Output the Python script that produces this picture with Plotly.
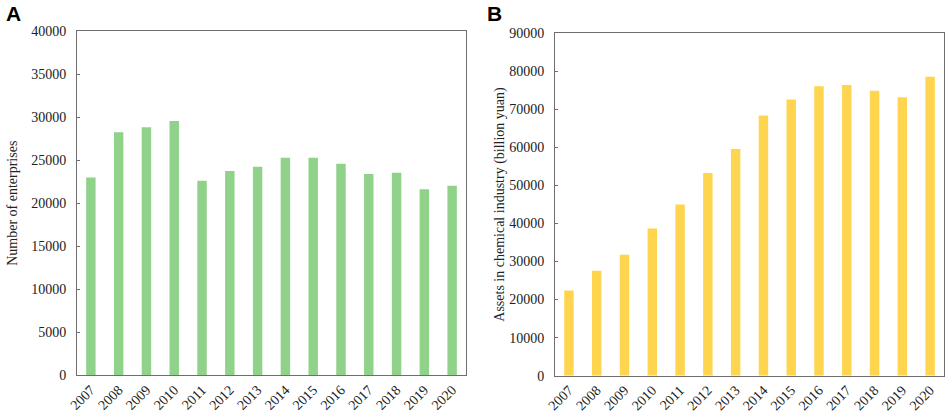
import plotly.graph_objects as go
from plotly.subplots import make_subplots

# ── data ──────────────────────────────────────────────────────────────────────
years = [str(y) for y in range(2007, 2021)]
enterprises = [23000, 28240, 28820, 29560, 22610, 23740, 24240,
               25290, 25290, 24590, 23390, 23550, 21610, 22030]
assets = [22400, 27600, 31800, 38700, 45000, 53300, 59600,
          68400, 72600, 76100, 76400, 74900, 73200, 78600]

A_TICKS = list(range(0, 40001, 5000))
B_TICKS = list(range(0, 90001, 10000))

FONT = "Liberation Serif"
AXIS_COLOR = "#6e6e6e"

fig = make_subplots(rows=1, cols=2, horizontal_spacing=0.09)

fig.add_trace(go.Bar(x=years, y=enterprises, marker_color="#91d28a",
                     marker_line_width=0, showlegend=False), row=1, col=1)
fig.add_trace(go.Bar(x=years, y=assets, marker_color="#ffd54f",
                     marker_line_width=0, showlegend=False), row=1, col=2)

fig.update_xaxes(showline=True, linecolor=AXIS_COLOR, linewidth=1, mirror=True,
                 showgrid=False, zeroline=False, automargin=False,
                 ticks="", tickangle=-45,
                 tickfont=dict(family=FONT, size=14, color="#222"))
fig.update_yaxes(showline=True, linecolor=AXIS_COLOR, linewidth=1, mirror=True,
                 showgrid=False, zeroline=False, automargin=False,
                 ticks="inside", ticklen=3, tickcolor=AXIS_COLOR,
                 ticklabelstandoff=7, tickformat="d",
                 tickfont=dict(family=FONT, size=14, color="#222"))

fig.update_xaxes(domain=[0.0812, 0.4916], row=1, col=1)
fig.update_xaxes(domain=[0.5855, 0.9958], row=1, col=2)
fig.update_yaxes(domain=[0.098, 0.925], range=[0, 40000], tickvals=A_TICKS,
                 title=dict(text="Number of enterprises",
                            font=dict(family=FONT, size=14, color="#222"),
                            standoff=10),
                 row=1, col=1)
fig.update_yaxes(domain=[0.097, 0.92], range=[0, 90000], tickvals=B_TICKS,
                 title=dict(text="Assets in chemical industry (billion yuan)",
                            font=dict(family=FONT, size=14, color="#222"),
                            standoff=1),
                 row=1, col=2)

# panel letters
for letter, xpos in [("A", 0.004), ("B", 0.512)]:
    fig.add_annotation(text=f"<b>{letter}</b>", x=xpos, y=1.0, xref="paper", yref="paper",
                       xanchor="left", yanchor="top", showarrow=False,
                       font=dict(family="Liberation Sans", size=21, color="#000"))

fig.update_layout(
    width=948, height=416,
    margin=dict(l=0, r=0, t=0, b=0),
    plot_bgcolor="white", paper_bgcolor="white",
    bargap=0.66,
)

# page body has an 8px default margin; drop it so the figure fills the window
fig.write_html("out.html", config={"displayModeBar": False},
               post_script="document.body.style.margin='0';")
